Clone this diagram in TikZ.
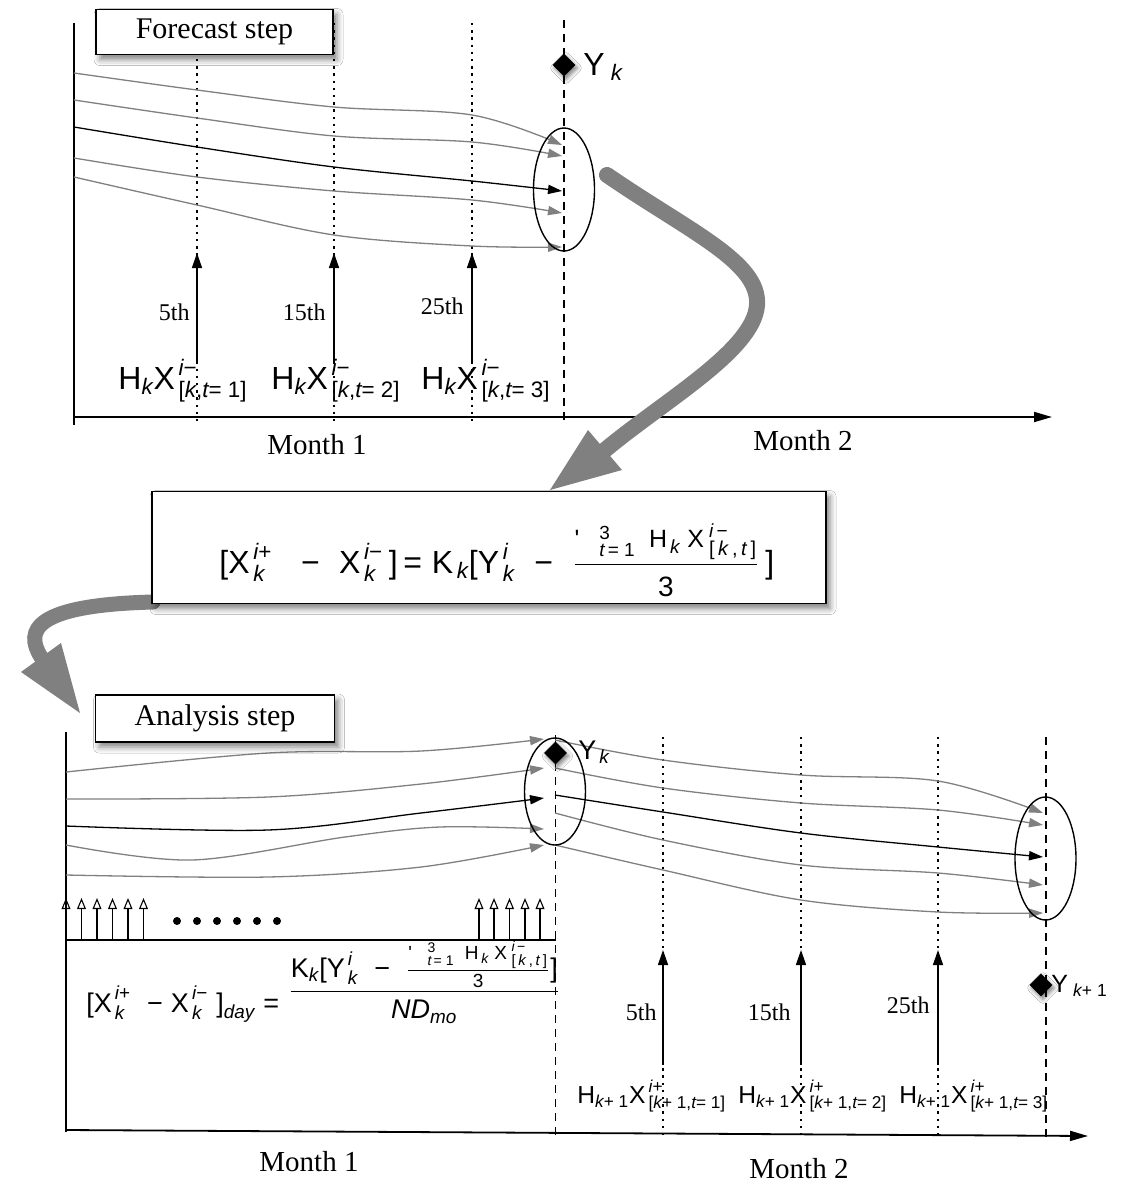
\documentclass[tikz,border=0pt]{standalone}
\usepackage{amsmath}
\usepackage{fontspec}
\setmainfont{Liberation Serif}
\newfontfamily\hvfont{Liberation Sans}
\usetikzlibrary{arrows.meta,shapes.geometric,shadows.blur}
\definecolor{arrgray}{RGB}{128,128,128}
\newcommand{\sfu}[1]{\text{\hvfont\upshape #1}}
\newcommand{\sfi}[1]{\text{\hvfont\itshape #1}}
\newcommand{\fsz}[2]{\text{\fontsize{#1}{#1}\selectfont\hvfont #2}}
\newcommand{\mn}{\sfu{\symbol{"2212}}}
\begin{document}
\begin{tikzpicture}[x=0.5pt,y=-0.5pt,
  trajg/.style={draw=arrgray, line width=0.65pt, -{Triangle[length=7pt,width=4.6pt]}},
  trajb/.style={draw=black, line width=0.65pt, -{Triangle[length=7pt,width=4.6pt]}},
  dotv/.style={line width=0.65pt, dash pattern=on 1.2pt off 2.4pt},
  dashv/.style={line width=0.7pt, dash pattern=on 4pt off 3pt},
  axisl/.style={line width=0.9pt},
  uparrow/.style={line width=0.75pt, -{Triangle[length=7.5pt,width=5pt]}},
  openup/.style={line width=0.55pt, -{Triangle[open,length=5.5pt,width=4.4pt]}},
  stepbox/.style={draw, line width=0.8pt, fill=white, minimum width=118.5pt, minimum height=22.5pt, inner sep=0pt, font=\fontsize{15}{18}\selectfont, blur shadow={shadow xshift=2pt, shadow yshift=-2.5pt, shadow blur radius=3pt, shadow opacity=50}},
  formbox/.style={draw, line width=0.8pt, fill=white, minimum width=337pt, minimum height=56pt, inner sep=0pt, blur shadow={shadow xshift=2pt, shadow yshift=-2.5pt, shadow blur radius=3pt, shadow opacity=50}},
  ydiam/.style={diamond, fill=black, inner sep=0pt, minimum width=11.5pt, minimum height=11.5pt, blur shadow={shadow xshift=1pt, shadow yshift=-1.5pt, shadow blur radius=2pt, shadow opacity=50}},
  ell/.style={ellipse, draw, line width=0.7pt, inner sep=0pt, minimum width=30.5pt},
  bigarr/.style={draw=arrgray, line width=8pt, line cap=round},
  lblsm/.style={font=\fontsize{12}{14}\selectfont, inner sep=1pt},
  lblmonth/.style={font=\fontsize{14.5}{17}\selectfont},
  hlab/.style={font=\fontsize{16}{19}\selectfont, inner sep=0pt},
  hlabsm/.style={font=\fontsize{12.3}{14}\selectfont, inner sep=0pt}]
\useasboundingbox (0,0) rectangle (1122,1184);
\fill[white] (0,0) rectangle (1122,1184);

% ================= TOP PANEL =================
\coordinate (tA0) at (74,23);
\coordinate (tA1) at (74,425);
\draw[axisl] (tA0) -- (tA1);
\coordinate (tX0) at (74,417);
\coordinate (tX1) at (1052,417);
\draw[axisl, -{Triangle[length=9pt,width=5pt]}] (tX0) -- (tX1);
\foreach \x in {197,334,472} \draw[dotv] (\x,23) -- (\x,423);
\draw[dashv] (564,20) -- (564,425);

% trajectories
\draw[trajg] plot[smooth,tension=0.55] coordinates {(74,73) (197,90) (334,107) (472,115) (562,145)};
\draw[trajg] plot[smooth,tension=0.55] coordinates {(74,100) (197,118) (334,136) (472,142) (562,156)};
\draw[trajb] plot[smooth,tension=0.55] coordinates {(74,127) (197,147) (334,167) (472,181) (562,191)};
\draw[trajg] plot[smooth,tension=0.55] coordinates {(74,158) (197,177) (334,191) (472,200) (562,213)};
\draw[trajg] plot[smooth,tension=0.55] coordinates {(74,177) (197,205) (334,235) (472,246) (562,247)};
\node[ell, minimum height=61.5pt] (e1) at (564,189.5) {};

\node[ydiam] (yk1) at (564,65) {};
\node[anchor=west, font=\fontsize{16}{18}\selectfont, inner sep=0pt] (yk1l) at (583,67) {$\sfu{Y}_{\;\sfi{k}}$};

% up arrows
\foreach \x/\n in {197/a,334/b,472/c} {
  \coordinate (ub\n) at (\x,362);
  \coordinate (ut\n) at (\x,253);
  \draw[uparrow] (ub\n) -- (ut\n);
}
\node[lblsm, anchor=east] (d5a) at (192,312) {5th};
\node[lblsm, anchor=east] (d15a) at (328,312) {15th};
\node[lblsm, anchor=east] (d25a) at (466,306) {25th};

\node[hlab, anchor=base west] (h1) at (118,389) {$\sfu{H}_{\sfi{k}}\sfu{X}^{\,\sfi{i}\mn}_{\,\sfu{[}\sfi{k}\sfu{,}\sfi{t}\sfu{= 1]}}$};
\node[hlab, anchor=base west] (h2) at (271,389) {$\sfu{H}_{\sfi{k}}\sfu{X}^{\,\sfi{i}\mn}_{\,\sfu{[}\sfi{k}\sfu{,}\sfi{t}\sfu{= 2]}}$};
\node[hlab, anchor=base west] (h3) at (421,389) {$\sfu{H}_{\sfi{k}}\sfu{X}^{\,\sfi{i}\mn}_{\,\sfu{[}\sfi{k}\sfu{,}\sfi{t}\sfu{= 3]}}$};

\node[lblmonth] (m1a) at (317,445) {Month 1};
\node[lblmonth] (m2a) at (803,441) {Month 2};

\node[stepbox] (fbox) at (214.5,32) {Forecast step};

% ================= BIG ARROWS =================
\coordinate (ba1s) at (607,175);
\coordinate (ba1e) at (605,450);
\draw[bigarr] (ba1s) .. controls (690,232) and (760,262) .. (757,305) .. controls (754,350) and (665,400) .. (ba1e);
\fill[arrgray] (550,490) -- (588,430) -- (622,470) -- cycle;

\coordinate (ba2s) at (153,602);
\coordinate (ba2e) at (41,657);
\draw[bigarr, line width=7.5pt] (ba2s) .. controls (35,605) and (24,630) .. (ba2e);
\fill[arrgray] (80,713) -- (21,672) -- (61,643) -- cycle;

% ================= FORMULA BOX =================
\node[formbox] (fb) at (489,547.5) {};
\node[anchor=base west, font=\fontsize{16}{19}\selectfont, inner sep=0pt] (ftop) at (219,573)
 {$\sfu{[}\sfu{X}^{\,\sfi{i}\sfu{+}}_{\,\sfi{k}}\;\;\;\mn\;\;\sfu{X}^{\,\sfi{i}\mn}_{\,\sfi{k}}\,\sfu{]}\,\sfu{=}\;\sfu{K}_{\,\sfi{k}}\sfu{[}\sfu{Y}^{\,\sfi{i}}_{\,\sfi{k}}\;\;\mn\;\;\dfrac{\text{\fontsize{12.5}{14}\selectfont$\sfu{'}\;\;\;{}^{\fsz{9.5}{3}}_{\fsz{9.5}{\itshape t}\fsz{9.5}{\,= 1}}\;\;\sfu{H}_{\,\fsz{9.5}{\itshape k}}\;\sfu{X}^{\;\fsz{9.5}{\itshape i\,}\fsz{9.5}{\symbol{"2212}}}_{\;\fsz{10}{[\,\textit{k}\,,\,\textit{t}\,]}}$}}{\text{\fontsize{14}{16}\selectfont$\sfu{3}$}}\,\sfu{]}$};

% ================= BOTTOM PANEL =================
\coordinate (bA0) at (66,732);
\coordinate (bA1) at (66,1132);
\draw[axisl] (bA0) -- (bA1);
\coordinate (bX0) at (66,1130);
\coordinate (bX1) at (1088,1136);
\draw[axisl, -{Triangle[length=9pt,width=5pt]}] (bX0) -- (bX1);
\foreach \x in {663,801,938} \draw[dotv] (\x,737) -- (\x,1140);
\draw[dashv] (555.5,735) -- (555.5,1140);
\draw[dashv] (1046,737) -- (1046,1140);

% left trajectories
\draw[trajg] plot[smooth,tension=0.55] coordinates {(66,772) (268,753) (421,751) (544,739)};
\draw[trajg] plot[smooth,tension=0.55] coordinates {(66,799) (268,797) (421,784) (544,768)};
\draw[trajb] plot[smooth,tension=0.55] coordinates {(66,826) (268,830) (421,813) (544,798)};
\draw[trajg] plot[smooth,tension=0.55] coordinates {(66,845) (192,860) (345,837) (440,827) (544,829)};
\draw[trajg] plot[smooth,tension=0.55] coordinates {(66,875) (268,877) (421,867) (544,845)};
% right trajectories
\draw[trajg] plot[smooth,tension=0.55] coordinates {(555,740) (663,760) (801,775) (938,781) (1043,813)};
\draw[trajg] plot[smooth,tension=0.55] coordinates {(555,768) (663,788) (801,803) (938,810) (1043,825)};
\draw[trajb] plot[smooth,tension=0.55] coordinates {(555,795) (663,812) (801,833) (938,847) (1043,857)};
\draw[trajg] plot[smooth,tension=0.55] coordinates {(555,813) (663,840) (801,865) (938,873) (1043,885)};
\draw[trajg] plot[smooth,tension=0.55] coordinates {(555,845) (663,870) (801,900) (938,912) (1043,913)};

\node[ell, minimum height=53.5pt] (e2) at (555,791.5) {};
\node[ell, minimum height=61.5pt] (e3) at (1045.5,858.5) {};

\node[ydiam] (yk2) at (555.5,753) {};
\node[anchor=west, font=\fontsize{13.5}{15}\selectfont, inner sep=0pt] (yk2l) at (578,752) {$\sfu{Y}_{\,\sfi{k}}$};
\node[ydiam] (yk3) at (1041,985) {};
\node[anchor=west, font=\fontsize{12.5}{15}\selectfont, inner sep=0pt] (yk3l) at (1051,986) {$\sfu{Y}_{\;\sfi{k}\sfu{+ 1}}$};

% daily open arrows
\foreach \x in {66,81.5,97,112.5,128,143.5,479,494,509.5,525,540} \draw[openup] (\x,940) -- (\x,898);
\coordinate (dl0) at (66,940);
\coordinate (dl1) at (556,940);
\draw[line width=0.8pt] (dl0) -- (dl1);
\foreach \x in {177,197,217,237,257,277} \fill (\x,921) circle[radius=2pt];

% bottom formula
\node[anchor=base west, font=\fontsize{13.5}{16}\selectfont, inner sep=0pt] (fbl) at (86,1012)
 {$\sfu{[}\sfu{X}^{\,\sfi{i}\sfu{+}}_{\,\sfi{k}}\;\;\mn\;\sfu{X}^{\,\sfi{i}\mn}_{\,\sfi{k}}\;\sfu{]}_{\sfi{day}}\;\sfu{=}$};
\node[anchor=base west, font=\fontsize{13.5}{16}\selectfont, inner sep=0pt] (fbr) at (288,999)
 {$\dfrac{\sfu{K}_{\sfi{k}}\sfu{[}\sfu{Y}^{\,\sfi{i}}_{\,\sfi{k}}\;\;\mn\;\;\frac{\text{\fontsize{9.5}{11}\selectfont$\sfu{'}\;\;\;{}^{\fsz{7}{3}}_{\fsz{7}{\itshape t}\fsz{7}{\,= 1}}\;\;\sfu{H}_{\,\fsz{7}{\itshape k}}\;\sfu{X}^{\;\fsz{7}{\itshape i\,}\fsz{7}{\symbol{"2212}}}_{\;\fsz{7.5}{[\,\textit{k}\,,\,\textit{t}\,]}}$}}{\text{\fontsize{9.5}{11}\selectfont$\sfu{3}$}}\sfu{]}}{\sfi{ND}_{\sfi{mo}}}$};

% bottom up arrows
\foreach \x/\n in {663/a,801/b,938/c} {
  \coordinate (vb\n) at (\x,1065);
  \coordinate (vt\n) at (\x,950);
  \draw[uparrow] (vb\n) -- (vt\n);
}
\node[lblsm, anchor=east] (d5b) at (659,1012) {5th};
\node[lblsm, anchor=east] (d15b) at (793,1012) {15th};
\node[lblsm, anchor=east] (d25b) at (932,1005) {25th};

\node[hlabsm, anchor=base west] (g1) at (577,1103) {$\sfu{H}_{\sfi{k}\sfu{+ 1}}\sfu{X}^{\,\sfi{i}\sfu{+}}_{\,\sfu{[}\sfi{k}\sfu{+ 1,}\sfi{t}\sfu{= 1]}}$};
\node[hlabsm, anchor=base west] (g2) at (738,1103) {$\sfu{H}_{\sfi{k}\sfu{+ 1}}\sfu{X}^{\,\sfi{i}\sfu{+}}_{\,\sfu{[}\sfi{k}\sfu{+ 1,}\sfi{t}\sfu{= 2]}}$};
\node[hlabsm, anchor=base west] (g3) at (899,1103) {$\sfu{H}_{\sfi{k}\sfu{+ 1}}\sfu{X}^{\,\sfi{i}\sfu{+}}_{\,\sfu{[}\sfi{k}\sfu{+ 1,}\sfi{t}\sfu{= 3]}}$};

\node[lblmonth] (m1b) at (309,1162) {Month 1};
\node[lblmonth] (m2b) at (799,1169) {Month 2};

\node[stepbox, minimum width=119.5pt, minimum height=23.5pt] (abox) at (215,718.5) {Analysis step};
\end{tikzpicture}
\end{document}
